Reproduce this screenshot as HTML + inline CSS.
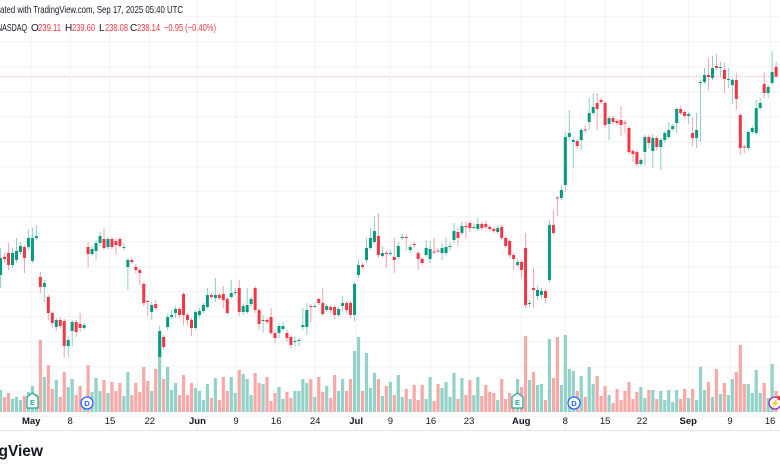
<!DOCTYPE html>
<html><head><meta charset="utf-8">
<style>
html,body{margin:0;padding:0;background:#fff;}
svg{display:block;font-family:"Liberation Sans",sans-serif;}
</style></head>
<body>
<svg id="chart" width="780" height="470" viewBox="0 0 780 470" xmlns="http://www.w3.org/2000/svg">
  <rect width="780" height="470" fill="#ffffff"/>
  <g id="grid"></g>
  <line x1="0" y1="76.6" x2="780" y2="76.6" stroke="#f7b5b8" stroke-width="1" stroke-dasharray="1,1"/>
  <g id="volumes"></g>
  <g id="candles"></g>
  <line x1="0" y1="430.5" x2="780" y2="430.5" stroke="#e6e6e6"/>
  <g id="xlabels" font-size="9.5" fill="#131722" text-anchor="middle"></g>
  <text x="0" y="13" font-size="10.5" fill="#131722" textLength="183" lengthAdjust="spacingAndGlyphs">ated with TradingView.com, Sep 17, 2025 05:40 UTC</text>
  <g font-size="10">
    <text x="-3" y="31" fill="#131722" textLength="30" lengthAdjust="spacingAndGlyphs">NASDAQ</text>
    <text x="31" y="31" fill="#131722">O</text>
    <text x="38" y="31" fill="#f23645" textLength="23" lengthAdjust="spacingAndGlyphs">239.11</text>
    <text x="65" y="31" fill="#131722">H</text>
    <text x="72" y="31" fill="#f23645" textLength="23" lengthAdjust="spacingAndGlyphs">239.60</text>
    <text x="99" y="31" fill="#131722">L</text>
    <text x="105" y="31" fill="#f23645" textLength="23" lengthAdjust="spacingAndGlyphs">238.08</text>
    <text x="130" y="31" fill="#131722">C</text>
    <text x="137" y="31" fill="#f23645" textLength="23" lengthAdjust="spacingAndGlyphs">238.14</text>
    <text x="164" y="31" fill="#f23645" textLength="52" lengthAdjust="spacingAndGlyphs">−0.95 (−0.40%)</text>
  </g>
  <g>
    <path d="M27 404 L27 397 L32.5 393 L38 397 L38 408 L27 408 Z" fill="#fff" stroke="#22ab94" stroke-width="1.3"/>
    <text x="32.5" y="405" font-size="7.5" font-weight="bold" fill="#22ab94" text-anchor="middle">E</text>
  </g>
  <g>
    <circle cx="87" cy="403" r="6" fill="#fff" stroke="#2962ff" stroke-width="1.3"/>
    <text x="87" y="406" font-size="7.5" font-weight="bold" fill="#2962ff" text-anchor="middle">D</text>
  </g>
  <g>
    <path d="M512 404 L512 397 L517.5 393 L523 397 L523 408 L512 408 Z" fill="#fff" stroke="#22ab94" stroke-width="1.3"/>
    <text x="517.5" y="405" font-size="7.5" font-weight="bold" fill="#22ab94" text-anchor="middle">E</text>
  </g>
  <g>
    <circle cx="574" cy="403" r="6" fill="#fff" stroke="#2962ff" stroke-width="1.3"/>
    <text x="574" y="406" font-size="7.5" font-weight="bold" fill="#2962ff" text-anchor="middle">D</text>
  </g>
  <g>
    <circle cx="775" cy="403" r="6" fill="#fff" stroke="#9c27b0" stroke-width="1.3"/>
    <text x="775" y="406" font-size="8" fill="#9c27b0" text-anchor="middle">⚡</text>
    <circle cx="779" cy="398" r="2" fill="#f23645"/>
  </g>
  <text x="43" y="456" font-size="15.5" font-weight="bold" fill="#131722" text-anchor="end">TradingView</text>
</svg>
<script>
const opens=[218.3,220.1,220.5,219.3,219.8,220.6,221.1,221.1,219.7,222.0,218.1,217.1,216.1,214.5,213.1,213.8,213.7,211.2,212.7,213.6,213.4,213.0,
221.1,220.4,220.7,221.5,221.9,221.1,221.9,221.7,221.9,221.0,219.1,219.8,219.1,218.8,217.4,215.7,214.6,215.4,210.1,212.1,213.1,214.1,214.5,214.9,216.4,214.3,213.8,213.0,214.3,214.7,215.1,216.3,216.0,216.3,216.4,215.9,216.1,216.5,217.0,214.6,214.6,215.4,217.0,214.8,
213.7,213.8,214.1,212.5,212.5,212.9,212.5,212.1,211.6,211.7,213.1,213.1,215.2,215.1,215.9,215.5,214.8,215.1,215.1,214.3,215.2,215.5,215.5,214.3,218.3,219.3,219.8,221.0,221.6,222.2,220.2,220.5,220.4,220.1,220.1,222.0,222.1,220.8,221.4,220.5,219.9,220.3,219.9,220.65,220.75,220.5,220.5,221.1,221.8,222.6,222.5,223.2,223.5,223.0,222.9,223.4,223.4,223.1,222.9,222.6,223.1,222.0,221.7,220.3,219.3,219.6,221.0,215.4,217.0,216.2,216.3,216.7,217.8,
223.3,226.05,226.0,227.3,232.1,231.6,231.7,231.8,232.85,233.6,234.5,235.5,235.8,235.5,233.4,234.0,233.7,233.8,233.55,233.0,230.7,230.6,229.4,230.6,232.1,230.7,232.0,231.1,231.8,232.1,232.9,233.5,234.9,234.6,234.2,232.5,232.0,237.5,237.6,238.3,238.0,239.2,239.05,238.8,237.85,237.3,237.8,234.3,231.15,231.0,232.6,232.5,235.0,237.4,236.5,237.5,239.11];
const closes=[220.0,219.9,219.3,220.5,220.7,221.2,220.0,222.0,222.0,222.2,217.1,217.5,214.5,213.5,213.8,213.2,211.2,211.8,213.6,212.6,213.0,213.3,
220.4,220.9,221.5,222.2,221.0,221.9,221.1,221.3,221.2,221.1,219.8,219.6,218.8,218.5,215.5,215.6,215.3,215.0,212.7,211.1,214.1,214.3,214.9,214.3,214.3,213.8,213.0,214.6,214.7,215.3,216.3,216.1,216.3,216.0,215.8,214.5,216.5,216.6,214.6,215.2,215.3,215.9,214.8,213.4,
213.8,213.6,212.5,212.0,213.2,213.2,212.0,211.3,211.7,211.8,213.3,214.8,215.1,215.2,215.5,214.4,215.2,214.8,214.3,214.9,215.5,214.8,214.3,217.4,219.3,219.1,221.0,222.0,222.7,220.3,220.5,220.4,220.5,219.8,221.2,222.1,222.0,221.1,221.3,219.9,219.5,221.0,220.9,220.6,220.7,221.0,221.1,221.2,222.7,222.0,223.2,223.1,223.0,223.1,223.4,223.0,223.1,222.9,222.7,223.0,222.0,221.2,220.3,219.9,219.6,218.8,215.3,215.5,216.8,216.8,216.7,216.0,223.3,
222.5,226.0,226.8,232.1,232.5,231.8,231.2,232.8,232.8,234.5,235.1,234.9,235.6,233.3,234.0,233.6,233.5,233.3,233.5,230.6,230.4,229.4,229.8,232.1,231.5,232.0,231.1,231.8,232.5,232.8,233.2,234.9,234.5,234.2,234.4,232.0,232.8,237.6,238.3,238.1,239.0,239.0,239.1,237.9,237.9,237.8,235.9,231.0,231.1,232.6,233.0,235.0,235.5,236.5,237.1,238.6,238.14];
const highs=[221.0,220.5,221.5,221.0,222.0,221.6,221.3,222.8,223.0,223.3,218.6,217.8,216.3,214.7,214.0,214.1,213.9,212.2,213.8,213.8,214.5,213.5,
221.6,221.2,221.8,222.6,223.0,222.1,222.1,221.9,222.1,221.5,220.0,220.0,219.4,219.0,217.6,215.8,215.6,215.8,213.2,212.3,214.4,214.8,215.2,215.1,216.6,214.5,214.0,214.8,215.0,215.5,217.0,216.5,218.0,216.5,217.2,216.1,217.8,217.0,217.8,215.4,217.0,216.1,217.2,215.0,
214.3,214.0,215.0,212.8,213.5,213.6,212.8,212.3,212.1,212.0,215.0,215.5,215.4,215.5,216.0,217.0,215.4,215.3,215.3,215.1,216.2,215.7,215.7,217.6,219.9,219.5,222.0,223.0,224.2,224.5,221.2,220.7,220.8,222.0,221.6,222.4,222.4,221.4,221.6,220.7,220.1,221.8,221.7,222.0,221.0,221.5,222.0,221.6,223.5,223.0,223.6,223.6,223.7,223.4,224.0,223.6,223.7,223.3,223.1,223.3,223.3,222.2,221.9,220.5,219.9,219.8,222.5,215.8,219.0,217.2,217.0,216.9,223.8,
224.8,226.2,227.2,232.6,234.8,232.0,231.9,233.0,233.3,236.0,236.5,236.5,236.0,235.7,234.2,234.2,233.9,235.2,233.8,233.2,230.9,230.8,230.0,232.3,232.3,232.4,232.2,232.0,232.7,233.6,233.4,235.1,235.2,234.8,234.6,234.1,234.5,237.8,239.0,240.0,240.2,240.4,239.6,239.5,239.0,238.0,238.5,234.5,231.3,232.8,233.2,235.8,236.0,238.6,237.3,240.7,239.6];
const lows=[217.0,219.5,218.8,219.0,219.5,220.3,218.5,220.8,219.5,221.8,216.5,215.6,213.8,213.0,212.7,212.9,210.0,210.1,211.2,212.1,212.6,212.8,
219.0,220.2,219.8,221.2,220.8,220.9,220.9,220.3,221.0,220.8,216.8,219.4,218.5,217.3,215.2,214.2,213.8,214.8,208.5,210.8,212.8,213.9,214.0,214.0,213.3,213.3,212.2,212.8,214.0,214.5,214.9,215.9,215.6,215.8,215.0,214.3,215.9,216.3,214.2,214.3,214.4,215.1,214.5,212.8,
212.5,213.4,212.3,211.5,212.0,212.7,211.6,211.0,211.2,211.2,212.8,212.3,213.6,215.0,215.3,214.2,214.6,214.5,213.9,214.1,214.7,214.5,214.0,213.7,218.0,218.9,219.5,220.8,221.4,220.0,220.0,219.0,220.2,218.5,219.9,221.8,220.8,220.5,221.0,218.8,219.3,220.1,219.5,220.4,220.5,219.8,220.2,220.7,221.5,221.2,222.3,222.0,222.6,222.9,222.7,222.8,222.9,222.7,222.5,222.4,221.8,221.0,220.0,218.8,219.1,218.0,215.0,215.1,215.0,215.8,216.0,215.5,217.5,
222.3,224.2,225.8,226.6,231.8,229.0,230.9,230.8,232.5,232.8,234.3,232.8,235.4,233.0,231.8,233.4,233.3,232.2,232.5,230.4,229.6,229.2,229.2,229.3,231.0,229.0,230.8,228.8,231.5,231.9,232.7,232.5,234.3,234.0,233.4,231.2,231.0,231.6,237.4,236.8,237.8,238.8,238.2,236.5,237.0,235.4,234.8,230.3,230.5,230.8,232.4,232.3,234.8,236.0,236.0,237.3,238.08];
const volumes=[22,15,19,13,15,12,16,20,26,18,72,35,47,23,32,15,40,25,33,17,26,13,47,20,34,21,32,19,30,21,29,16,40,17,29,20,45,31,21,43,75,33,45,22,29,17,37,17,29,24,21,12,28,14,34,12,35,21,35,19,42,38,33,17,39,29,28,35,11,19,25,13,20,14,21,21,33,29,33,15,35,20,26,14,37,21,33,21,33,61,75,21,59,24,39,33,16,26,
30,17,37,15,23,13,27,12,27,13,35,11,28,24,30,15,39,13,34,17,32,17,35,16,27,20,19,12,33,13,19,12,33,25,76,32,40,27,28,12,73,34,75,27,77,43,41,21,36,15,45,28,36,16,26,17,9,23,12,21,30,13,20,25,14,22,22,13,21,12,22,10,22,13,23,14,23,12,45,22,30,15,43,18,29,17,33,40,67,28,28,19,42,19,29,14,48,21];
const tickLabels=["May","8","15","22","Jun","9","16","24","Jul","9","16","23","Aug","8","15","22","Sep","9","16"];
const tickIndex=[7.7,17.5,27.5,37.5,49.5,59.2,69.3,79.1,89.4,98,108.2,117.8,130.9,142,152,161.3,172.9,183.4,193.5];
const tickBold=[1,0,0,0,1,0,0,0,1,0,0,0,1,0,0,0,1,0,0];

const NS="http://www.w3.org/2000/svg";
const P_TOP=245.8, PX_PER=10, STEP=3.977, X0=0.6, VOL_BASE=412, VOL_SCALE=1;
function xOf(i){return X0+i*STEP;}
function yOf(p){return (P_TOP-p)*PX_PER;}
function vH(v){return v*VOL_SCALE;}
function mk(t,a){const e=document.createElementNS(NS,t);for(const k in a)e.setAttribute(k,a[k]);return e;}

const grid=document.getElementById('grid');
for(let y=16.7;y<420;y+=25){
  const l=mk('line',{x1:0,x2:780,y1:y,y2:y,stroke:'#f2f2f2','stroke-width':1});
  
  
  grid.appendChild(l);
}
const xl=document.getElementById('xlabels');
tickLabels.forEach((lab,k)=>{
  const x=xOf(tickIndex[k]);
  const l=mk('line',{x1:x,x2:x,y1:0,y2:430,stroke:'#f2f2f2','stroke-width':1});
  
  
  grid.appendChild(l);
  const t=mk('text',{x:x,y:424});
  if(tickBold[k])t.setAttribute('font-weight','bold');
  t.textContent=lab;
  
  
  xl.appendChild(t);
});

const vg=document.getElementById('volumes');
volumes.forEach((v,i)=>{
  const up=(closes[i]!==undefined)?closes[i]>=opens[i]:true;
  const h=vH(v);
  const r=mk('rect',{x:xOf(i)-1.6,y:VOL_BASE-h,width:3.2,height:h,fill:up?'#92d2c8':'#f7a9a7'});
  
  
  vg.appendChild(r);
});

const cg=document.getElementById('candles');
opens.forEach((o,i)=>{
  const c=closes[i], up=c>=o, col=up?'#089981':'#f23645', wcol=up?'#8fcfc3':'#f5a3a8';
  const x=xOf(i);
  const w=mk('line',{x1:x,x2:x,y1:yOf(highs[i]),y2:yOf(lows[i]),stroke:wcol,'stroke-width':1});
  
  
  cg.appendChild(w);
  const top=yOf(Math.max(o,c)), bh=Math.max(1,yOf(Math.min(o,c))-top);
  const b=mk('rect',{x:x-1.5,y:top,width:3,height:bh,fill:col});
  
  
  cg.appendChild(b);
});
</script>
</body></html>
